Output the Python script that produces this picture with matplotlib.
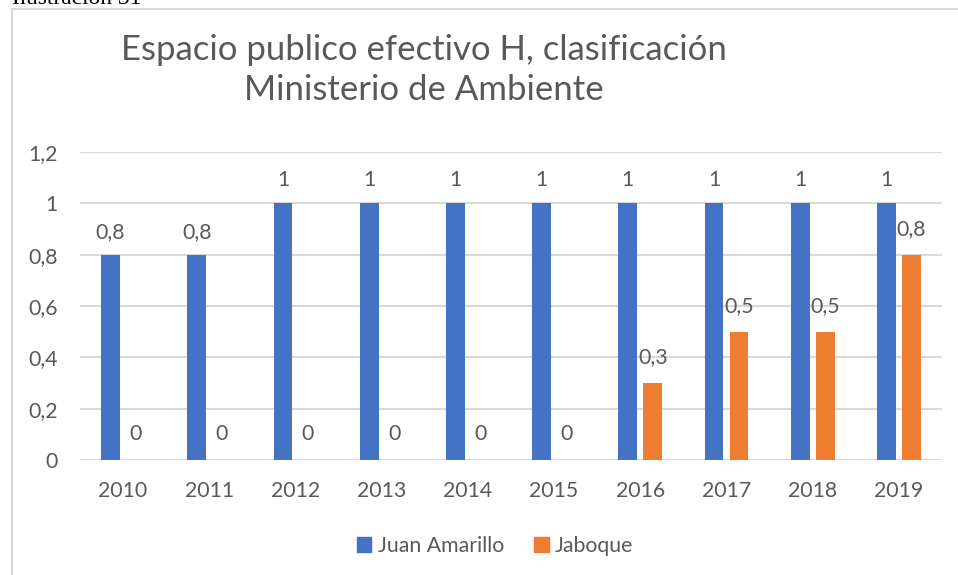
import matplotlib
matplotlib.use("Agg")
import matplotlib.pyplot as plt
from matplotlib.patches import Rectangle, Patch
import numpy as np

years = ["2010", "2011", "2012", "2013", "2014", "2015", "2016", "2017", "2018", "2019"]
juan_amarillo = [0.8, 0.8, 1, 1, 1, 1, 1, 1, 1, 1]
jaboque = [0, 0, 0, 0, 0, 0, 0.3, 0.5, 0.5, 0.8]
series_names = ["Juan Amarillo", "Jaboque"]
yticks = [0, 0.2, 0.4, 0.6, 0.8, 1.0, 1.2]
title = "Espacio publico efectivo H, clasificación\nMinisterio de Ambiente"

BLUE = "#4472C4"
ORANGE = "#ED7D31"
TXT = "#595959"
GRID = "#D9D9D9"
FS = 15.3

plt.rcParams['font.family'] = ['Lato', 'DejaVu Sans']

W, H = 958, 575
fig = plt.figure(figsize=(W / 100, H / 100), dpi=100)

# outer chart frame
fig.add_artist(Rectangle((11.5 / W, -0.1), 1.2, 1.1 - 8.5 / H, transform=fig.transFigure,
                         fill=False, edgecolor=GRID, linewidth=1.5))
fig.text(12 / W, 1 - 4 / H, "Ilustración 31", family="Liberation Serif", fontsize=16.8,
         color="black", ha="left", va="baseline")

ax = fig.add_axes([80 / W, 1 - 460 / H, (942 - 80) / W, (460 - 152) / H])
x = np.arange(len(years))
bw = 0.22
off = 0.145
ax.bar(x - off, juan_amarillo, bw, color=BLUE, label=series_names[0], zorder=3)
ax.bar(x + off, jaboque, bw, color=ORANGE, label=series_names[1], zorder=3)

def fmt(v):
    return ("%g" % v).replace(".", ",")

for xi, v in zip(x, juan_amarillo):
    ax.annotate(fmt(v), (xi - off, v), xytext=(0, 16.5), textcoords="offset points",
                ha="center", va="center", fontsize=FS, color=TXT)
for xi, v in zip(x, jaboque):
    ax.annotate(fmt(v), (xi + off, v), xytext=(0, 18.5), textcoords="offset points",
                ha="center", va="center", fontsize=FS, color=TXT)

ax.set_xlim(-0.5, len(years) - 0.5)
ax.set_ylim(0, 1.2)
ax.set_yticks(yticks)
ax.set_yticklabels([fmt(t) for t in yticks])
ax.set_xticks(x)
ax.set_xticklabels(years)
ax.tick_params(axis="both", length=0, labelsize=FS, colors=TXT)
ax.tick_params(axis="y", pad=16)
ax.tick_params(axis="x", pad=15)
ax.grid(axis="y", color=GRID, linewidth=1.5, zorder=0)
for s in ax.spines.values():
    s.set_visible(False)

fig.text(424 / W, 1 - 70 / H, title, ha="center", va="center", fontsize=25,
         color=TXT, linespacing=1.28)

handles = [Patch(color=BLUE), Patch(color=ORANGE)]
fig.legend(handles, series_names, loc="center", bbox_to_anchor=(495 / W, 1 - 546 / H),
           ncol=2, frameon=False, fontsize=FS, labelcolor=TXT, handlelength=0.7,
           handleheight=0.7, handletextpad=0.3, columnspacing=1.4)

fig.savefig("out.png", dpi=100)
